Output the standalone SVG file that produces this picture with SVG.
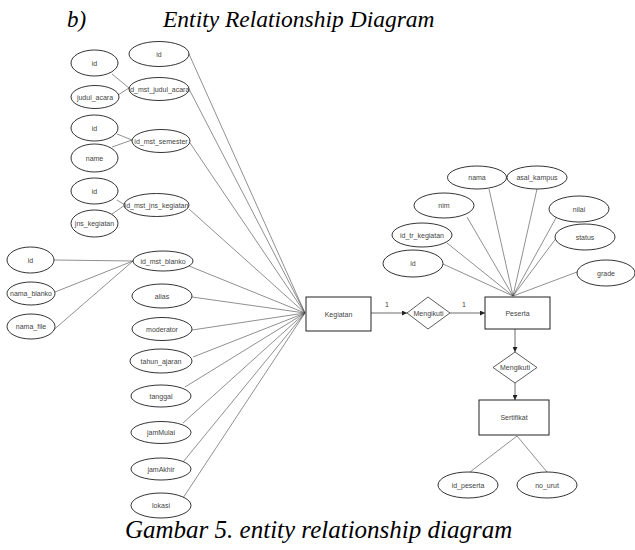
<svg xmlns="http://www.w3.org/2000/svg" width="635" height="550" viewBox="0 0 635 550">
<defs>
<style>
.attr{fill:#fff;stroke:#000;stroke-width:0.8}
.ent{fill:#fff;stroke:#222;stroke-width:1}
.rel{fill:#fff;stroke:#333;stroke-width:0.8}
.lbl{font-family:"Liberation Sans",Arial,sans-serif;font-size:7px;fill:#444;text-anchor:middle;dominant-baseline:central}
.ln{stroke:#444;stroke-width:0.6;fill:none}
.ar{stroke:#444;stroke-width:0.8;fill:none;marker-end:url(#arr)}
.ttl{font-family:"Liberation Serif","Times New Roman",serif;font-style:italic;fill:#000}
</style>
<marker id="arr" viewBox="0 0 10 10" refX="10" refY="5" markerWidth="5" markerHeight="5" orient="auto" markerUnits="userSpaceOnUse">
<path d="M0,0 L10,5 L0,10 z" fill="#222"/>
</marker>
</defs>
<rect width="635" height="550" fill="#fff"/>
<text class="ttl" x="67" y="27" font-size="23">b)</text>
<text class="ttl" x="163" y="27" font-size="23.5">Entity Relationship Diagram</text>
<text class="ttl" x="125" y="538" font-size="25">Gambar 5. entity relationship diagram</text>

<g id="connectors">
<line class="ln" x1="189" y1="54" x2="305" y2="313"/>
<line class="ln" x1="189" y1="89" x2="305" y2="313"/>
<line class="ln" x1="190" y1="143" x2="305" y2="313"/>
<line class="ln" x1="189" y1="209" x2="305" y2="313"/>
<line class="ln" x1="189" y1="266" x2="305" y2="313"/>
<line class="ln" x1="192" y1="297" x2="305" y2="313"/>
<line class="ln" x1="192" y1="330" x2="305" y2="313"/>
<line class="ln" x1="193" y1="357" x2="305" y2="313"/>
<line class="ln" x1="185" y1="387" x2="305" y2="313"/>
<line class="ln" x1="183" y1="423" x2="305" y2="313"/>
<line class="ln" x1="183" y1="462" x2="305" y2="313"/>
<line class="ln" x1="183" y1="498" x2="305" y2="313"/>
<line class="ln" x1="112" y1="74" x2="129" y2="88"/>
<line class="ln" x1="118" y1="95" x2="129" y2="88"/>
<line class="ln" x1="117" y1="134" x2="132" y2="140"/>
<line class="ln" x1="112" y1="147" x2="132" y2="140"/>
<line class="ln" x1="117" y1="200" x2="125" y2="205"/>
<line class="ln" x1="112" y1="214" x2="125" y2="205"/>
<line class="ln" x1="54" y1="260" x2="133" y2="261"/>
<line class="ln" x1="55" y1="292" x2="133" y2="261"/>
<line class="ln" x1="50" y1="333" x2="133" y2="261"/>
<line class="ln" x1="489" y1="189" x2="513" y2="296"/>
<line class="ln" x1="537" y1="189" x2="513" y2="296"/>
<line class="ln" x1="467" y1="217" x2="513" y2="296"/>
<line class="ln" x1="557" y1="216" x2="513" y2="296"/>
<line class="ln" x1="447" y1="243" x2="513" y2="296"/>
<line class="ln" x1="557" y1="237" x2="513" y2="296"/>
<line class="ln" x1="443" y1="264" x2="513" y2="296"/>
<line class="ln" x1="577" y1="272" x2="513" y2="296"/>
<line class="ln" x1="517" y1="436" x2="470" y2="472"/>
<line class="ln" x1="517" y1="436" x2="547" y2="472"/>
<line class="ar" x1="371" y1="313" x2="407" y2="313"/>
<line class="ar" x1="450" y1="313" x2="485" y2="313"/>
<line class="ar" x1="515" y1="329" x2="515" y2="352"/>
<line class="ar" x1="515" y1="383" x2="515" y2="400"/>
<text class="lbl" x="387" y="304">1</text>
<text class="lbl" x="464" y="304">1</text>
</g>

<g id="kegiatan"><rect class="ent" x="306" y="297" width="65" height="34"/><text class="lbl" x="338.5" y="314">Kegiatan</text></g>
<g id="peserta"><rect class="ent" x="485" y="297" width="65" height="32"/><text class="lbl" x="517.5" y="313">Peserta</text></g>
<g id="sertifikat"><rect class="ent" x="479" y="400" width="70" height="35"/><text class="lbl" x="514" y="417">Sertifikat</text></g>
<g id="mengikuti1"><polygon class="rel" points="428,297 450,313 428,329 407,313"/><text class="lbl" x="428.5" y="313">Mengikuti</text></g>
<g id="mengikuti2"><polygon class="rel" points="515,352 537,367.5 515,383 493,367.5"/><text class="lbl" x="515" y="367.5">Mengikuti</text></g>

<g id="attr-id-top"><ellipse class="attr" cx="159" cy="54" rx="30" ry="12.5"/><text class="lbl" x="159" y="54">id</text></g>
<g id="attr-id-mst-judul-acara"><ellipse class="attr" cx="159" cy="89" rx="30" ry="11.5"/><text class="lbl" x="159" y="89">id_mst_judul_acara</text></g>
<g id="attr-id-mst-semester"><ellipse class="attr" cx="161" cy="141" rx="29" ry="11.5"/><text class="lbl" x="161" y="141">id_mst_semester</text></g>
<g id="attr-id-mst-jns-kegiatan"><ellipse class="attr" cx="156.5" cy="205" rx="32.5" ry="11.5"/><text class="lbl" x="156.5" y="205">id_mst_jns_kegiatan</text></g>
<g id="attr-id-mst-blanko"><ellipse class="attr" cx="163" cy="261" rx="30" ry="10"/><text class="lbl" x="163" y="261">id_mst_blanko</text></g>
<g id="attr-alias"><ellipse class="attr" cx="162" cy="296" rx="30" ry="12"/><text class="lbl" x="162" y="296">alias</text></g>
<g id="attr-moderator"><ellipse class="attr" cx="162" cy="329" rx="30" ry="11.5"/><text class="lbl" x="162" y="329">moderator</text></g>
<g id="attr-tahun-ajaran"><ellipse class="attr" cx="161" cy="361" rx="31" ry="12"/><text class="lbl" x="161" y="361">tahun_ajaran</text></g>
<g id="attr-tanggal"><ellipse class="attr" cx="161" cy="396" rx="30" ry="11"/><text class="lbl" x="161" y="396">tanggal</text></g>
<g id="attr-jammulai"><ellipse class="attr" cx="161" cy="432.5" rx="30" ry="11"/><text class="lbl" x="161" y="432.5">jamMulai</text></g>
<g id="attr-jamakhir"><ellipse class="attr" cx="161" cy="469" rx="30" ry="11"/><text class="lbl" x="161" y="469">jamAkhir</text></g>
<g id="attr-lokasi"><ellipse class="attr" cx="161" cy="505.5" rx="30" ry="12.5"/><text class="lbl" x="161" y="505.5">lokasi</text></g>

<g id="attr-judul-id"><ellipse class="attr" cx="94.5" cy="63" rx="23.5" ry="13"/><text class="lbl" x="94.5" y="63">id</text></g>
<g id="attr-judul-acara"><ellipse class="attr" cx="95" cy="97" rx="24" ry="11.5"/><text class="lbl" x="95" y="97">judul_acara</text></g>
<g id="attr-semester-id"><ellipse class="attr" cx="94.5" cy="128" rx="23.5" ry="13"/><text class="lbl" x="94.5" y="128">id</text></g>
<g id="attr-semester-name"><ellipse class="attr" cx="94.5" cy="158" rx="23.5" ry="14"/><text class="lbl" x="94.5" y="158">name</text></g>
<g id="attr-jns-id"><ellipse class="attr" cx="94.5" cy="191" rx="23.5" ry="13"/><text class="lbl" x="94.5" y="191">id</text></g>
<g id="attr-jns-kegiatan"><ellipse class="attr" cx="94.5" cy="223.5" rx="23.5" ry="13.5"/><text class="lbl" x="94.5" y="223.5">jns_kegiatan</text></g>
<g id="attr-blanko-id"><ellipse class="attr" cx="30.5" cy="260" rx="23.5" ry="13"/><text class="lbl" x="30.5" y="260">id</text></g>
<g id="attr-nama-blanko"><ellipse class="attr" cx="31" cy="293.5" rx="24" ry="11.5"/><text class="lbl" x="31" y="293.5">nama_blanko</text></g>
<g id="attr-nama-file"><ellipse class="attr" cx="31" cy="326.5" rx="24" ry="12.5"/><text class="lbl" x="31" y="326.5">nama_file</text></g>

<g id="attr-nama"><ellipse class="attr" cx="477" cy="177.5" rx="29.5" ry="11.5"/><text class="lbl" x="477" y="177.5">nama</text></g>
<g id="attr-asal-kampus"><ellipse class="attr" cx="537" cy="177.5" rx="30" ry="11.5"/><text class="lbl" x="537" y="177.5">asal_kampus</text></g>
<g id="attr-nim"><ellipse class="attr" cx="444" cy="205.5" rx="30" ry="12.5"/><text class="lbl" x="444" y="205.5">nim</text></g>
<g id="attr-nilai"><ellipse class="attr" cx="579" cy="209" rx="30" ry="13"/><text class="lbl" x="579" y="209">nilai</text></g>
<g id="attr-id-tr-kegiatan"><ellipse class="attr" cx="422" cy="235" rx="30" ry="12"/><text class="lbl" x="422" y="235">id_tr_kegiatan</text></g>
<g id="attr-status"><ellipse class="attr" cx="585" cy="237" rx="30" ry="13"/><text class="lbl" x="585" y="237">status</text></g>
<g id="attr-peserta-id"><ellipse class="attr" cx="413" cy="263.5" rx="30" ry="13.5"/><text class="lbl" x="413" y="263.5">id</text></g>
<g id="attr-grade"><ellipse class="attr" cx="606" cy="273" rx="29" ry="13"/><text class="lbl" x="606" y="273">grade</text></g>

<g id="attr-id-peserta"><ellipse class="attr" cx="468" cy="485" rx="30" ry="13"/><text class="lbl" x="468" y="485">id_peserta</text></g>
<g id="attr-no-urut"><ellipse class="attr" cx="547" cy="485" rx="30" ry="13"/><text class="lbl" x="547" y="485">no_urut</text></g>
</svg>
